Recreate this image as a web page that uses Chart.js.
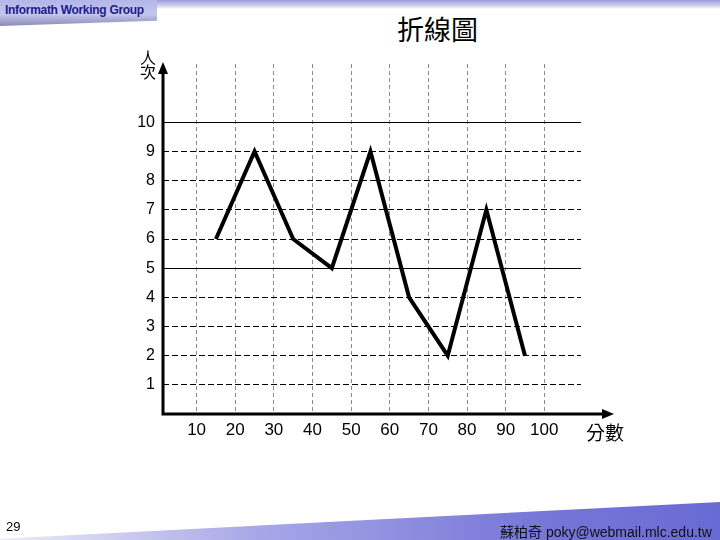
<!DOCTYPE html>
<html>
<head>
<meta charset="utf-8">
<script src="https://cdn.jsdelivr.net/npm/chart.js@4/dist/chart.umd.min.js"></script>
<style>
  body { margin: 0; background: #fff; }
  #wrap { position: relative; width: 720px; height: 540px; overflow: hidden; }
  #chart { position: absolute; left: 0; top: 0; }
  .topband { position: absolute; left: 0; top: 0; width: 720px; height: 9px;
    background: linear-gradient(#9c9cdc, #d8d8f2 70%, #fff); }
  .tag { position: absolute; left: 0; top: 0; width: 157px; height: 26px;
    background: linear-gradient(#b2b6ea, #c4c6ec 55%, #8a8ab8 100%);
    clip-path: polygon(0 0, 100% 0, 100% 80%, 75% 85%, 0 100%); }
  .tag span { position: absolute; left: 5px; top: 3px; font: bold 12px "Liberation Sans", Arial, sans-serif;
    color: #1c1c8c; letter-spacing: -0.3px; white-space: nowrap; }
  .title { position: absolute; left: 397px; top: 9px; font: 27px "Noto Sans CJK TC", sans-serif; color: #000; white-space: nowrap; }
  .ylab { position: absolute; left: 139px; top: 50px; width: 18px; font: 16px "Noto Sans CJK TC", sans-serif;
    line-height: 14px; text-align: center; color: #000; }
  .xlab { position: absolute; left: 586px; top: 418px; font: 19px "Noto Sans CJK TC", sans-serif; color: #000; white-space: nowrap; }
  .foot { position: absolute; left: 0; top: 500px; width: 720px; height: 40px;
    background: linear-gradient(to right, #ececf8 0%, #a8a8e8 35%, #7676d8 75%, #6a6ad4 100%);
    clip-path: polygon(0 97%, 100% 5%, 100% 100%, 0 100%); }
  .page { position: absolute; left: 6px; top: 519px; font: 13px "Liberation Sans", Arial, sans-serif; color: #000; }
  .author { position: absolute; left: 500px; top: 521px; font: 14px "Liberation Sans", "Noto Sans CJK TC", sans-serif;
    color: #111; white-space: nowrap; }
</style>
</head>
<body>
<div id="wrap">
  <div class="topband"></div>
  <div class="tag"><span>Informath Working Group</span></div>
  <div class="title">折線圖</div>
  <div class="foot"></div>
  <canvas id="chart" width="720" height="540"></canvas>
  <div class="ylab">人<br>次</div>
  <div class="xlab">分數</div>
  <div class="page">29</div>
  <div class="author">蘇柏奇 poky@webmail.mlc.edu.tw</div>
</div>
<script>
const scores = [15, 25, 35, 45, 55, 65, 75, 85, 95]
const counts = [6, 9, 6, 5, 9, 4, 2, 7, 2]
const xTicks = [10, 20, 30, 40, 50, 60, 70, 80, 90, 100]
const yTicks = [1, 2, 3, 4, 5, 6, 7, 8, 9, 10]

// axes with arrow heads
const arrowAxes = {
  id: 'arrowAxes',
  afterDraw(chart) {
    const ctx = chart.ctx
    const a = chart.chartArea
    ctx.save()
    ctx.strokeStyle = '#000'
    ctx.fillStyle = '#000'
    ctx.lineWidth = 3
    ctx.beginPath()
    ctx.moveTo(a.left, a.bottom + 1.5)
    ctx.lineTo(a.left, a.top + 6)
    ctx.moveTo(a.left - 1.5, a.bottom)
    ctx.lineTo(a.right + 24, a.bottom)
    ctx.stroke()
    ctx.beginPath()
    ctx.moveTo(a.left, a.top - 2)
    ctx.lineTo(a.left - 5, a.top + 10)
    ctx.lineTo(a.left + 5, a.top + 10)
    ctx.closePath()
    ctx.fill()
    ctx.beginPath()
    ctx.moveTo(a.right + 33, a.bottom)
    ctx.lineTo(a.right + 21, a.bottom - 5)
    ctx.lineTo(a.right + 21, a.bottom + 5)
    ctx.closePath()
    ctx.fill()
    ctx.restore()
  }
}

new Chart(document.getElementById('chart'), {
  type: 'line',
  data: {
    datasets: [{
      data: scores.map((s, i) => ({ x: s, y: counts[i] })),
      borderColor: '#000',
      borderWidth: 4,
      borderJoinStyle: 'miter',
      borderCapStyle: 'butt',
      pointRadius: 0,
      tension: 0,
      fill: false
    }]
  },
  options: {
    responsive: false,
    animation: false,
    events: [],
    layout: { padding: { top: 64, right: 139, left: 0, bottom: 0 } },
    plugins: { legend: { display: false }, tooltip: { enabled: false } },
    scales: {
      x: {
        type: 'linear',
        min: 1.3,
        max: 109.5,
        afterBuildTicks: (scale) => { scale.ticks = xTicks.map(v => ({ value: v })) },
        afterFit: (scale) => { scale.height = 126 },
        ticks: {
          autoSkip: false,
          maxRotation: 0,
          padding: 6,
          color: '#000',
          font: { family: '"Liberation Sans", Arial, sans-serif', size: 17 }
        },
        grid: { color: '#8a8a8a', lineWidth: 1, drawTicks: false },
        border: { display: false, dash: [4, 3] }
      },
      y: {
        min: 0,
        max: 12,
        afterBuildTicks: (scale) => { scale.ticks = yTicks.map(v => ({ value: v })) },
        afterFit: (scale) => { scale.width = 163 },
        ticks: {
          padding: 8,
          color: '#000',
          font: { family: '"Liberation Sans", Arial, sans-serif', size: 16 }
        },
        grid: { color: '#000', lineWidth: 1, drawTicks: false },
        border: {
          display: false,
          dash: (ctx) => (ctx.tick && ctx.tick.value % 5 === 0) ? [] : [6, 3]
        }
      }
    }
  },
  plugins: [arrowAxes]
})
</script>
</body>
</html>
